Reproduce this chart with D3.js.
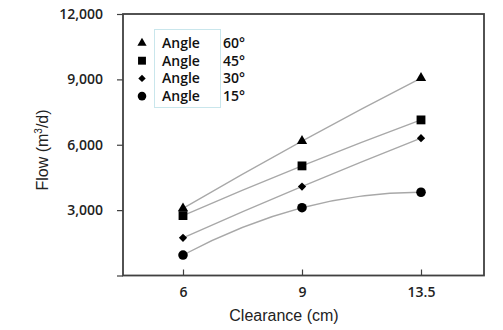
<!DOCTYPE html>
<html>
<head>
<meta charset="utf-8">
<script src="https://cdn.jsdelivr.net/npm/d3@7"></script>
<style>
  html, body { margin: 0; padding: 0; background: #fff; }
  svg { display: block; }
</style>
</head>
<body>
<script>
// ---- data ----
const categories = ["6", "9", "13.5"];
const seriesNames = ["60°", "45°", "30°", "15°"];
const seriesSymbols = ["triangle", "square", "diamond", "circle"];
const angle60 = [3080, 6170, 9060];
const angle45 = [2750, 5030, 7140];
const angle30 = [1730, 4080, 6300];
const angle15 = [940, 3110, 3820];
const yTicks = [0, 3000, 6000, 9000, 12000];
const yTickLabels = ["", "3,000", "6,000", "9,000", "12,000"];
const xTitle = "Clearance (cm)";

const series = [angle60, angle45, angle30, angle15].map((v, i) => ({
  name: seriesNames[i], symbol: seriesSymbols[i], values: v
}));

const W = 503, H = 330;
const mLeft = 123, mRight = 484, mTop = 14, mBottom = 275.5;

const svg = d3.select("body").append("svg").attr("width", W).attr("height", H);

const x = d3.scalePoint().domain(categories).range([mLeft + 0.5, 480.5]).padding(0.5);
const y = d3.scaleLinear().domain([0, 12000]).range([mBottom, mTop]);

const tickFont = "'Open Sans', 'Noto Sans', sans-serif";
const titleFont = "'Liberation Sans', Arial, sans-serif";
const frameColor = "#404040";

// frame
svg.append("rect")
  .attr("x", mLeft).attr("y", mTop)
  .attr("width", mRight - mLeft).attr("height", mBottom - mTop)
  .attr("fill", "none").attr("stroke", frameColor).attr("stroke-width", 1.8);

// y axis
const yAxis = d3.axisLeft(y).tickValues(yTicks)
  .tickFormat((d, i) => yTickLabels[i]).tickSize(6).tickPadding(14);
const gy = svg.append("g").attr("transform", `translate(${mLeft},0)`).call(yAxis);
gy.select(".domain").remove();
gy.selectAll(".tick line").attr("stroke", frameColor).attr("stroke-width", 1.2);
gy.selectAll(".tick text")
  .attr("font-family", tickFont).attr("font-weight", 600)
  .attr("font-size", 14).attr("fill", "#222");

// x axis (ticks inside)
const xAxis = d3.axisBottom(x).tickSize(-6).tickPadding(12);
const gx = svg.append("g").attr("transform", `translate(0,${mBottom})`).call(xAxis);
gx.select(".domain").remove();
gx.selectAll(".tick line").attr("stroke", frameColor).attr("stroke-width", 1.2);
gx.selectAll(".tick text")
  .attr("font-family", tickFont).attr("font-weight", 600)
  .attr("font-size", 14).attr("fill", "#222");

// axis titles
svg.append("text")
  .attr("x", 284).attr("y", 321)
  .attr("text-anchor", "middle")
  .attr("font-family", titleFont)
  .attr("font-size", 16).attr("fill", "#222")
  .text(xTitle);

const yt = svg.append("text")
  .attr("transform", "translate(48,150) rotate(-90)")
  .attr("text-anchor", "middle")
  .attr("font-family", titleFont)
  .attr("font-size", 16).attr("fill", "#222");
yt.append("tspan").text("Flow (m");
yt.append("tspan").attr("font-size", 10).attr("dy", -6).text("3");
yt.append("tspan").attr("dy", 6).text("/d)");

// trend curves (quadratic through the three points)
series.forEach(s => {
  const pts = s.values.map((v, i) => [x(categories[i]), y(v)]);
  const p = d3.path();
  p.moveTo(pts[0][0], pts[0][1]);
  const cx = 2 * pts[1][0] - 0.5 * (pts[0][0] + pts[2][0]);
  const cy = 2 * pts[1][1] - 0.5 * (pts[0][1] + pts[2][1]);
  p.quadraticCurveTo(cx, cy, pts[2][0], pts[2][1]);
  svg.append("path").attr("d", p.toString())
    .attr("fill", "none").attr("stroke", "#a8a8a8").attr("stroke-width", 1.3);
});

const rotatedSquare = {
  draw(context, size) {
    const r = Math.sqrt(size / 2);
    context.moveTo(0, -r);
    context.lineTo(r, 0);
    context.lineTo(0, r);
    context.lineTo(-r, 0);
    context.closePath();
  }
};
const symbolType = {
  triangle: d3.symbolTriangle, square: d3.symbolSquare,
  diamond: rotatedSquare, circle: d3.symbolCircle
};
const symbolSize = { triangle: 46, square: 78, diamond: 34, circle: 72 };

series.forEach(s => {
  svg.append("g").selectAll("path").data(s.values).join("path")
    .attr("transform", (v, i) => `translate(${x(categories[i])},${y(v)})`)
    .attr("d", d3.symbol().type(symbolType[s.symbol]).size(symbolSize[s.symbol]))
    .attr("fill", "#000");
});

// legend
const lg = svg.append("g");
lg.append("rect").attr("x", 154.5).attr("y", 29.5).attr("width", 66).attr("height", 78)
  .attr("fill", "#fff").attr("stroke", "#c9e6ec").attr("stroke-width", 1);
series.forEach((s, i) => {
  const yy = 43 + i * 17.7;
  lg.append("path")
    .attr("transform", `translate(142,${yy})`)
    .attr("d", d3.symbol().type(symbolType[s.symbol]).size(symbolSize[s.symbol] * 0.8))
    .attr("fill", "#000");
  lg.append("text").attr("x", 162).attr("y", yy + 5)
    .attr("font-family", tickFont).attr("font-weight", 600)
    .attr("font-size", 14).attr("fill", "#111").text("Angle");
  lg.append("text").attr("x", 223).attr("y", yy + 5)
    .attr("font-family", tickFont).attr("font-weight", 600)
    .attr("font-size", 14).attr("fill", "#111").text(s.name);
});
</script>
</body>
</html>
